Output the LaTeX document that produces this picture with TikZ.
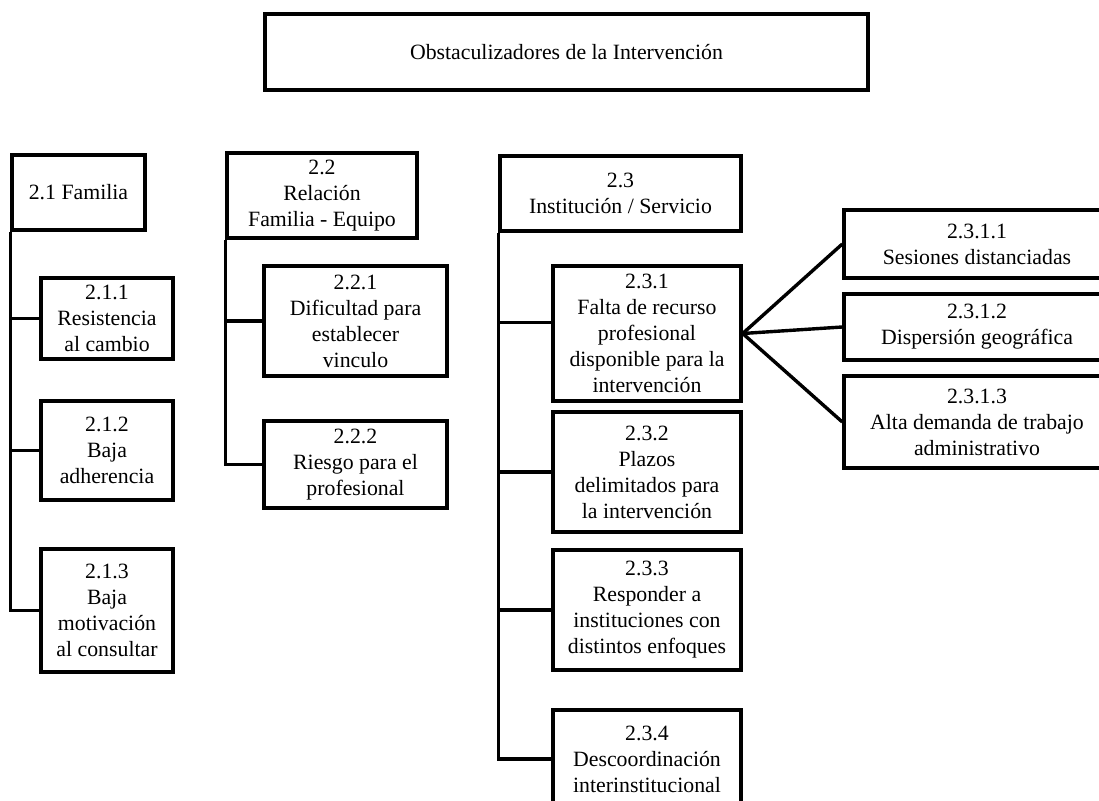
\documentclass[tikz,border=0pt]{standalone}
\usepackage{fontspec}
\setmainfont{Liberation Serif}
\usepackage{tikz}
\usetikzlibrary{shadows}

\begin{document}
\begin{tikzpicture}[x=0.5pt,y=-0.5pt,line width=1.7pt,
                    main node/.style={rectangle,draw,fill=white,align=center,inner sep=0pt,
                      drop shadow={opacity=0.2,shadow xshift=1pt,shadow yshift=-1pt},
                      font=\fontsize{10.9}{13}\selectfont}]

  \clip (0,0) rectangle (1099,801);

  \node[main node,minimum width=301.5pt,minimum height=38pt] (obs) at (566.5,52) {Obstaculizadores de la Intervención};

  \node[main node,minimum width=66.5pt,minimum height=37.5pt] (fam) at (78.5,192.5) {2.1 Familia};
  \node[main node,minimum width=95pt,minimum height=42.5pt] (rel) at (322,195.5) {2.2\\Relación\\Familia - Equipo};
  \node[main node,minimum width=120.5pt,minimum height=37.5pt] (ins) at (620.5,193.5) {2.3\\Institución / Servicio};

  \node[main node,minimum width=66pt,minimum height=40.5pt] (fam1) at (107,318.5) {2.1.1\\Resistencia\\al cambio};
  \node[main node,minimum width=66pt,minimum height=49.5pt] (fam2) at (107,450.5) {2.1.2\\Baja\\adherencia};
  \node[main node,minimum width=66pt,minimum height=61.5pt] (fam3) at (107,610.5) {2.1.3\\Baja\\motivación\\al consultar};

  \node[main node,minimum width=91.5pt,minimum height=55pt] (rel1) at (355.5,321) {2.2.1\\Dificultad para\\establecer\\vinculo};
  \node[main node,minimum width=91.5pt,minimum height=43.5pt] (rel2) at (355.5,464.5) {2.2.2\\Riesgo para el\\profesional};

  \node[main node,minimum width=94pt,minimum height=67.5pt] (ins1) at (647,333.5) {2.3.1\\Falta de recurso\\profesional\\disponible para la\\intervención};
  \node[main node,minimum width=94pt,minimum height=60pt] (ins2) at (647,472) {2.3.2\\Plazos\\delimitados para\\la intervención};
  \node[main node,minimum width=94pt,minimum height=60pt] (ins3) at (647,610) {2.3.3\\Responder a\\instituciones con\\distintos enfoques};
  \node[main node,minimum width=94pt,minimum height=49pt] (ins4) at (647,759) {2.3.4\\Descoordinación\\interinstitucional};

  \node[main node,minimum width=133pt,minimum height=34pt] (sub1) at (977,244) {2.3.1.1\\Sesiones distanciadas};
  \node[main node,minimum width=133pt,minimum height=33pt] (sub2) at (977,327) {2.3.1.2\\Dispersión geográfica};
  \node[main node,minimum width=133pt,minimum height=46pt] (sub3) at (977,422) {2.3.1.3\\Alta demanda de trabajo\\administrativo};

  % 2.1
  \draw (fam.south west) |- (fam3.west);
  \draw (fam.south west |- fam1.west) -- (fam1.west);
  \draw (fam.south west |- fam2.west) -- (fam2.west);
  % 2.2
  \draw (rel.south west) |- (rel2.west);
  \draw (rel.south west |- rel1.west) -- (rel1.west);
  % 2.3
  \draw (ins.south west) |- (ins4.west);
  \draw (ins.south west |- ins1.west) ++(0,-11) -- ([yshift=5.5pt]ins1.west);
  \draw (ins.south west |- ins2.west) -- (ins2.west);
  \draw (ins.south west |- ins3.west) -- (ins3.west);
  % 2.3.1
  \draw (ins1.east) -- (sub1.west);
  \draw (ins1.east) -- (sub2.west);
  \draw (ins1.east) -- (sub3.west);
\end{tikzpicture}
\end{document}
